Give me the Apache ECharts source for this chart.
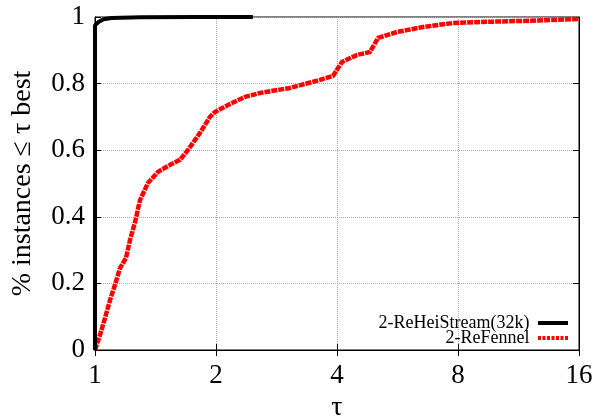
<!DOCTYPE html>
<html>
<head>
<meta charset="utf-8">
<script src="https://cdn.jsdelivr.net/npm/echarts@6/dist/echarts.min.js"></script>
<style>
  html, body { margin: 0; padding: 0; background: #fff; }
  #chart { width: 598px; height: 418px; }
</style>
</head>
<body>
<div id="chart"></div>
<script>
// performance profile data (tau, fraction of instances)
const heiTau = [1, 1, 1.02, 1.05, 1.1, 1.3, 1.8, 2.47]
const heiFrac = [0, 0.975, 0.985, 0.993, 0.997, 0.999, 1.0, 1.0]

const fenTau = [1, 1.029, 1.059, 1.09, 1.121, 1.154, 1.194, 1.222, 1.258, 1.294, 1.355, 1.435,
  1.537, 1.627, 1.704, 1.825, 1.932, 1.989, 2.167, 2.362, 2.574, 3.056, 3.629, 3.909,
  4.116, 4.485, 4.833, 5.059, 5.64, 6.546, 7.775, 9.075, 11.41, 16]
const fenFrac = [0, 0.045, 0.096, 0.15, 0.195, 0.246, 0.276, 0.33, 0.384, 0.45, 0.502, 0.535,
  0.556, 0.571, 0.601, 0.652, 0.7, 0.715, 0.739, 0.76, 0.772, 0.787, 0.811, 0.823,
  0.865, 0.886, 0.895, 0.937, 0.955, 0.97, 0.982, 0.985, 0.988, 0.994]

const xTicks = [1, 2, 4, 8, 16]
const yTicks = [0, 0.2, 0.4, 0.6, 0.8, 1]

const serif = 'Liberation Serif'
const zip = (a, b) => a.map((v, i) => [v, b[i]])

// legend samples: solid bar and a row of short dashes
const solidIcon = 'path://M0,0h30v4h-30z'
const dashIcon = 'path://M0,0h3v4h-3z M4.5,0h3v4h-3z M9,0h3v4h-3z M13.5,0h3v4h-3z M18,0h3v4h-3z M22.5,0h3v4h-3z M27,0h3v4h-3z'

const chart = echarts.init(document.getElementById('chart'))
chart.setOption({
  animation: false,
  grid: {
    left: 95, right: 19, top: 17, bottom: 68,
    outerBoundsMode: 'none',
    containLabel: false,
    show: true, borderColor: '#000', borderWidth: 1
  },
  xAxis: [{
    type: 'log',
    logBase: 2,
    min: xTicks[0],
    max: xTicks[xTicks.length - 1],
    name: 'τ',
    nameLocation: 'middle',
    nameGap: 44,
    nameTextStyle: { fontFamily: serif, fontSize: 28, color: '#000' },
    axisLine: { lineStyle: { color: '#000' } },
    axisTick: { inside: true, length: 6, lineStyle: { color: '#000' } },
    axisLabel: { fontFamily: serif, fontSize: 27, color: '#000', margin: 12 },
    splitLine: { show: true, lineStyle: { type: 'dotted', color: '#aaa' } }
  }, {
    type: 'log',
    logBase: 2,
    position: 'top',
    min: xTicks[0],
    max: xTicks[xTicks.length - 1],
    axisLine: { lineStyle: { color: '#000' } },
    axisTick: { inside: true, length: 6, lineStyle: { color: '#000' } },
    axisLabel: { show: false },
    splitLine: { show: false }
  }],
  yAxis: [{
    type: 'value',
    min: yTicks[0],
    max: yTicks[yTicks.length - 1],
    interval: 0.2,
    name: '% instances ≤ τ best',
    nameLocation: 'middle',
    nameGap: 58,
    nameTextStyle: { fontFamily: serif, fontSize: 28, color: '#000' },
    axisLine: { show: true, lineStyle: { color: '#000' } },
    axisTick: { show: true, inside: true, length: 6, lineStyle: { color: '#000' } },
    axisLabel: { fontFamily: serif, fontSize: 27, color: '#000', margin: 10 },
    splitLine: { show: true, lineStyle: { type: 'dotted', color: '#aaa' } }
  }, {
    type: 'value',
    position: 'right',
    min: yTicks[0],
    max: yTicks[yTicks.length - 1],
    interval: 0.2,
    axisLine: { show: true, lineStyle: { color: '#000' } },
    axisTick: { show: true, inside: true, length: 6, lineStyle: { color: '#000' } },
    axisLabel: { show: false },
    splitLine: { show: false }
  }],
  legend: [{
    data: [{ name: '2-ReHeiStream(32k)', icon: solidIcon }],
    right: 25,
    top: 309,
    align: 'right',
    itemWidth: 33,
    itemHeight: 4,
    textStyle: { fontFamily: serif, fontSize: 18, color: '#000', padding: [0, 2, 0, 0] }
  }, {
    data: [{ name: '2-ReFennel', icon: dashIcon }],
    right: 25,
    top: 324,
    align: 'right',
    itemWidth: 33,
    itemHeight: 4,
    textStyle: { fontFamily: serif, fontSize: 18, color: '#000', padding: [0, 2, 0, 0] }
  }],
  series: [{
    name: '2-ReFennel',
    type: 'line',
    data: zip(fenTau, fenFrac),
    symbol: 'none',
    z: 2,
    lineStyle: { color: '#ff0000', width: 4.5, type: [6, 1] },
    itemStyle: { color: '#ff0000' }
  }, {
    name: '2-ReHeiStream(32k)',
    type: 'line',
    data: zip(heiTau, heiFrac),
    symbol: 'none',
    z: 3,
    lineStyle: { color: '#000', width: 4 },
    itemStyle: { color: '#000' }
  }]
})
</script>
</body>
</html>
